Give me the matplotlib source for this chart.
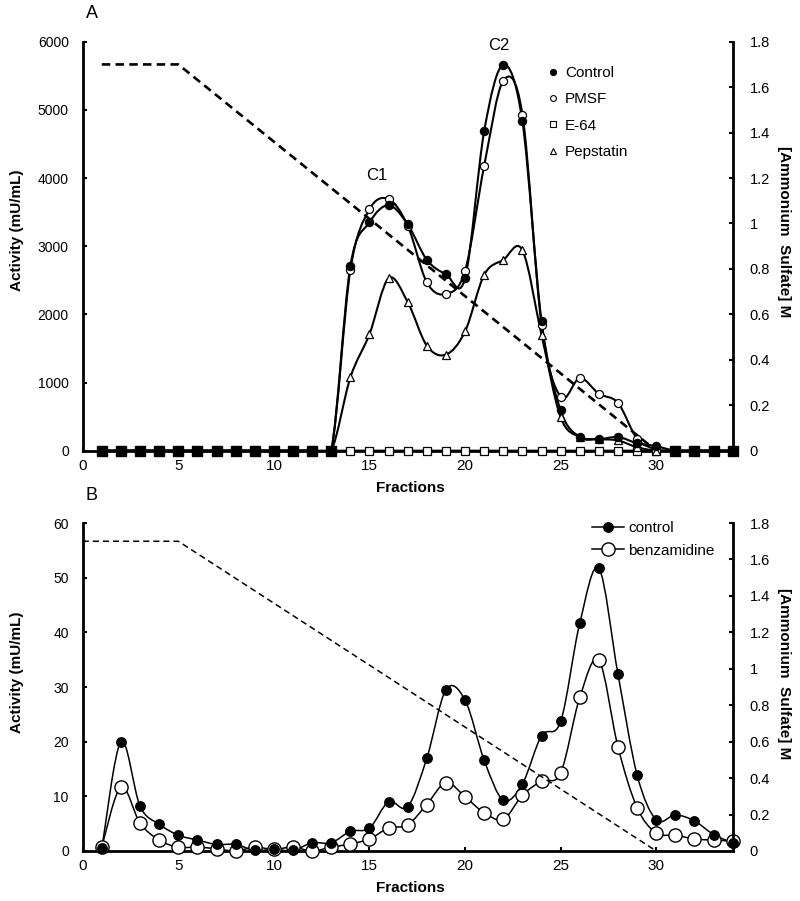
import numpy as np
import matplotlib
matplotlib.use("Agg")
import matplotlib.pyplot as plt
from matplotlib.path import Path
from matplotlib.patches import PathPatch
from matplotlib.lines import Line2D
from matplotlib.ticker import FuncFormatter

plt.rcParams['font.family'] = ['Liberation Sans', 'DejaVu Sans']

# ── Dados ─────────────────────────────────────────────────────
fracoes = np.arange(1, 35)

# painel A (mU/mL)
a_control = [0, 0, 0, 0, 0, 0, 0, 0, 0, 0, 0, 0, 0,
             2710, 3350, 3600, 3320, 2800, 2590, 2530, 4690, 5660, 4830, 1900,
             590, 200, 170, 200, 110, 65, 0, 0, 0, 0]
a_pmsf = [0, 0, 0, 0, 0, 0, 0, 0, 0, 0, 0, 0, 0,
          2650, 3540, 3690, 3300, 2470, 2300, 2640, 4180, 5430, 4930, 1850,
          790, 1065, 835, 700, 175, 20, 0, 0, 0, 0]
a_e64 = [0] * 34
a_pepstatin = [0, 0, 0, 0, 0, 0, 0, 0, 0, 0, 0, 0, 0,
               1075, 1710, 2530, 2180, 1540, 1410, 1750, 2580, 2800, 2940, 1700,
               490, 200, 170, 150, 50, 0, 0, 0, 0, 0]

# painel B (mU/mL)
b_control = [0.5, 20.0, 8.2, 4.9, 2.9, 2.0, 1.2, 1.2, 0.1, 0.3, 0.1, 1.5, 1.5,
             3.6, 4.2, 9.0, 8.1, 17.0, 29.5, 27.6, 16.6, 9.3, 12.3, 21.1,
             23.7, 41.7, 51.7, 32.3, 13.9, 5.7, 6.6, 5.5, 3.0, 1.5]
b_benzamidine = [0.8, 11.7, 5.1, 2.0, 0.7, 0.7, 0.4, 0.0, 0.7, 0.3, 0.7, 0.0, 0.7,
                 1.3, 2.2, 4.2, 4.8, 8.5, 12.5, 9.9, 7.0, 5.8, 10.2, 12.8,
                 14.3, 28.1, 34.9, 19.0, 7.9, 3.3, 2.9, 2.2, 2.0, 1.8]

# gradiente de sulfato de amônio (M)
gradA_x = [1, 5, 30]
gradB_x = [0, 5, 30]
grad_y = [1.7, 1.7, 0]
# ─────────────────────────────────────────────────────────────


def curva_suave(x, y):
    # spline tipo Excel (Catmull-Rom convertido em Bezier)
    p = np.column_stack([x, y]).astype(float)
    n = len(p)
    verts = [p[0]]
    codes = [Path.MOVETO]
    for i in range(n - 1):
        p0 = p[i - 1] if i > 0 else p[i]
        p3 = p[i + 2] if i + 2 < n else p[i + 1]
        c1 = p[i] + (p[i + 1] - p0) / 6
        c2 = p[i + 1] - (p3 - p[i]) / 6
        verts += [c1, c2, p[i + 1]]
        codes += [Path.CURVE4] * 3
    return Path(verts, codes)


def linha(ax, x, y, lw):
    ax.add_patch(PathPatch(curva_suave(x, y), fill=False, lw=lw,
                           ec='black', zorder=2))


def estilo_eixos(ax, ax2, ymax, ystep):
    for s in ['top']:
        ax.spines[s].set_visible(False)
        ax2.spines[s].set_visible(False)
    for s in ['left', 'bottom']:
        ax.spines[s].set_linewidth(2)
    ax2.spines['right'].set_linewidth(2)
    ax2.spines['left'].set_visible(False)
    ax2.spines['bottom'].set_visible(False)
    ax.set_xlim(0, 34)
    ax.set_ylim(0, ymax)
    ax.set_xticks(range(0, 31, 5))
    ax.set_yticks(np.arange(0, ymax + ystep / 2, ystep))
    ax.tick_params(axis='x', direction='in', length=3, width=1.5,
                   labelsize=11, pad=6)
    ax.tick_params(axis='y', direction='in', length=3, width=1.5,
                   labelsize=10, pad=10)
    ax2.set_ylim(0, 1.8)
    ax2.set_yticks(np.arange(0, 1.81, 0.2))
    ax2.yaxis.set_major_formatter(FuncFormatter(lambda v, _: f"{v:g}"))
    ax2.tick_params(axis='y', direction='in', length=3, width=1.5,
                    labelsize=10.5, pad=12)


fig = plt.figure(figsize=(8, 9.01), dpi=100)

# ── Painel A ──────────────────────────────────────────────────
axA = fig.add_axes([0.1034, 0.4998, 0.8125, 0.4539])
axA2 = axA.twinx()
estilo_eixos(axA, axA2, 6000, 1000)

for serie in [a_e64, a_pepstatin, a_pmsf, a_control]:
    linha(axA, fracoes, serie, 1.5)

vazio = np.array(a_control) == 0
axA.plot(fracoes[~vazio], np.array(a_e64)[~vazio], ls='none', marker='s',
         ms=5.6, mfc='white', mec='black', mew=0.9, zorder=3, clip_on=False)
axA.plot(fracoes[vazio], np.array(a_e64)[vazio], ls='none', marker='s', ms=6.5,
         mfc='black', mec='black', zorder=3, clip_on=False)
m = fracoes >= 14
axA.plot(fracoes[m][:17], np.array(a_pepstatin)[m][:17], ls='none', marker='^',
         ms=6, mfc='white', mec='black', mew=0.9, zorder=3, clip_on=False)
axA.plot(fracoes[m][:16], np.array(a_pmsf)[m][:16], ls='none', marker='o',
         ms=5.8, mfc='white', mec='black', mew=0.9, zorder=4, clip_on=False)
axA.plot(fracoes[m][:17], np.array(a_control)[m][:17], ls='none', marker='o',
         ms=5.8, mfc='black', mec='black', zorder=5, clip_on=False)

axA2.plot(gradA_x, grad_y, color='black', lw=1.9, ls=(0, (3.2, 2.0)))

axA.text(15.38, 4044, "C1", fontsize=12, ha='center', va='center')
axA.text(21.77, 5951, "C2", fontsize=12, ha='center', va='center')

handA = [
    Line2D([], [], ls='none', marker='o', ms=4.2, mfc='black', mec='black'),
    Line2D([], [], ls='none', marker='o', ms=4.2, mfc='white', mec='black', mew=0.8),
    Line2D([], [], ls='none', marker='s', ms=3.8, mfc='white', mec='black', mew=0.8),
    Line2D([], [], ls='none', marker='^', ms=4.5, mfc='white', mec='black', mew=0.8),
]
axA.legend(handA, ["Control", "PMSF", "E-64", "Pepstatin"], loc='upper left',
           bbox_to_anchor=(0.714, 0.94), frameon=False, fontsize=11,
           handlelength=0.8, handletextpad=0.4, labelspacing=0.8,
           borderpad=0, borderaxespad=0)

# ── Painel B ──────────────────────────────────────────────────
axB = fig.add_axes([0.1034, 0.0555, 0.8125, 0.364])
axB2 = axB.twinx()
estilo_eixos(axB, axB2, 60, 10)

linha(axB, fracoes, b_benzamidine, 1.1)
linha(axB, fracoes, b_control, 1.1)
axB.plot(fracoes, b_benzamidine, ls='none', marker='o', ms=9.5,
         mfc='white', mec='black', mew=1.0, zorder=3, clip_on=False)
axB.plot(fracoes, b_control, ls='none', marker='o', ms=6.8,
         mfc='black', mec='black', zorder=4, clip_on=False)

axB2.plot(gradB_x, grad_y, color='black', lw=1.1, ls=(0, (4.0, 2.6)))

handB = [
    Line2D([], [], color='black', lw=1.1, marker='o', ms=6.8, mfc='black'),
    Line2D([], [], color='black', lw=1.1, marker='o', ms=9.5, mfc='white', mew=1.0),
]
axB.legend(handB, ["control", "benzamidine"], loc='upper left',
           bbox_to_anchor=(0.783, 1.005), frameon=False, fontsize=11,
           handlelength=2.1, handletextpad=0.3, labelspacing=0.55,
           borderpad=0, borderaxespad=0)

# ── Rótulos ───────────────────────────────────────────────────
for y_letra, letra in [(14, "A"), (495, "B")]:
    fig.text(91.7 / 800, 1 - y_letra / 901, letra, fontsize=13,
             ha='center', va='center')

for y_txt in [488, 888]:
    fig.text(410 / 800, 1 - y_txt / 901, "Fractions", fontsize=11,
             fontweight='bold', ha='center', va='center')

for y_txt in [230, 672]:
    fig.text(17 / 800, 1 - y_txt / 901, "Activity (mU/mL)", fontsize=11,
             fontweight='bold', rotation=90, ha='center', va='center')
    fig.text(784 / 800, 1 - (y_txt + 2) / 901, "[Ammonium  Sulfate] M",
             fontsize=11, fontweight='bold', rotation=270,
             ha='center', va='center')

fig.savefig("out.png", dpi=100)
